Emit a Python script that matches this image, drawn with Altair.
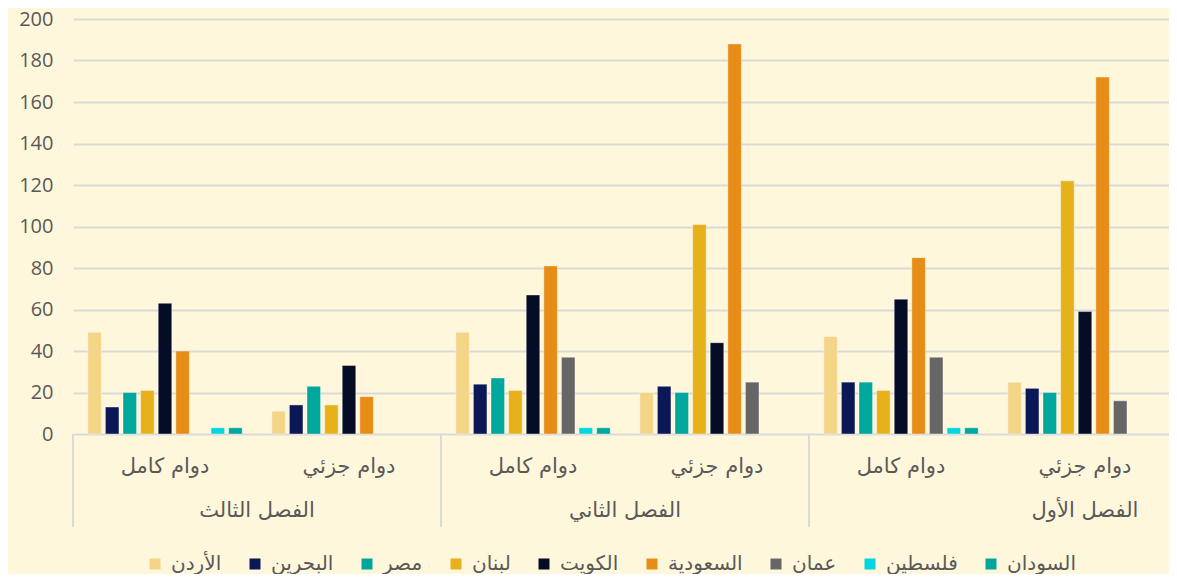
import altair as alt
import pandas as pd

countries = ["الأردن", "البحرين", "مصر", "لبنان", "الكويت", "السعودية", "عمان", "فلسطين", "السودان"]
colors = ["#F2D586", "#0B1757", "#00A79D", "#E6B11A", "#040C26", "#E68C17", "#666666", "#00D5E0", "#00A79D"]

semesters = ["الفصل الثالث", "الفصل الثالث", "الفصل الثاني", "الفصل الثاني", "الفصل الأول", "الفصل الأول"]
modes = ["دوام كامل", "دوام جزئي", "دوام كامل", "دوام جزئي", "دوام كامل", "دوام جزئي"]

third_full = [49, 13, 20, 21, 63, 40, 0, 3, 3]
third_part = [11, 14, 23, 14, 33, 18, 0, 0, 0]
second_full = [49, 24, 27, 21, 67, 81, 37, 3, 3]
second_part = [20, 23, 20, 101, 44, 188, 25, 0, 0]
first_full = [47, 25, 25, 21, 65, 85, 37, 3, 3]
first_part = [25, 22, 20, 122, 59, 172, 16, 0, 0]

y_ticks = [0, 20, 40, 60, 80, 100, 120, 140, 160, 180, 200]

groups = [third_full, third_part, second_full, second_part, first_full, first_part]
group_keys = [f"{i}|{m}" for i, m in enumerate(modes)]

rows = []
for gk, vals in zip(group_keys, groups):
    for c, v in zip(countries, vals):
        rows.append({"g": gk, "c": c, "v": v})
df = pd.DataFrame(rows)

mode_df = pd.DataFrame({"g": group_keys, "m": modes})
sep_df = pd.DataFrame({"g": [group_keys[0], group_keys[2], group_keys[4]]})
# first two semester labels sit on the boundary between their two sub-groups
sem_df = pd.DataFrame({"g": [group_keys[0], group_keys[2]], "s": [semesters[0], semesters[2]]})
# the last one (as in the reference) sits centred over its second sub-group
sem_last_df = pd.DataFrame({"g": [group_keys[5]], "s": [semesters[5]]})

W, H = 1104, 415
AR_FONT = "DejaVu Sans"
TXT = "#595959"
GRID = "#D9D9D9"

xscale = alt.Scale(domain=group_keys, paddingInner=0, paddingOuter=0)

bars = alt.Chart(df).transform_filter("datum.v > 0").mark_bar(
    stroke="#ffffff", strokeWidth=0.8, strokeOpacity=0.5
).encode(
    x=alt.X("g:N", scale=xscale, title=None, axis=None),
    xOffset=alt.XOffset("c:N", sort=countries,
                        scale=alt.Scale(domain=countries, paddingInner=0.23, paddingOuter=0.84)),
    y=alt.Y("v:Q", scale=alt.Scale(domain=[0, 200]), title=None,
            axis=alt.Axis(values=y_ticks, domain=False, ticks=False, labelPadding=20,
                          labelFont="Open Sans", labelFontSize=20, labelColor=TXT,
                          gridColor=GRID, gridWidth=2)),
    color=alt.Color("c:N", sort=countries,
                    scale=alt.Scale(domain=countries, range=colors),
                    legend=alt.Legend(orient="none", legendX=72, legendY=535, direction="horizontal",
                                      columns=9, title=None, labelFont=AR_FONT, labelFontSize=20,
                                      labelColor=TXT, symbolType="square", symbolSize=121,
                                      symbolStrokeWidth=0, columnPadding=23, labelOffset=6)),
)

seps = alt.Chart(sep_df).mark_rule(color=GRID, strokeWidth=2).encode(
    x=alt.X("g:N", scale=xscale, bandPosition=0, axis=None),
    y=alt.value(H),
    y2=alt.value(H + 93),
)

mode_text = alt.Chart(mode_df).mark_text(font=AR_FONT, fontSize=21, color=TXT, baseline="middle").encode(
    x=alt.X("g:N", scale=xscale, bandPosition=0.5, axis=None),
    y=alt.value(H + 33),
    text="m:N",
)

sem_text = alt.Chart(sem_df).mark_text(font=AR_FONT, fontSize=21, color=TXT, baseline="middle").encode(
    x=alt.X("g:N", scale=xscale, bandPosition=1, axis=None),
    y=alt.value(H + 77),
    text="s:N",
)

sem_last = alt.Chart(sem_last_df).mark_text(font=AR_FONT, fontSize=21, color=TXT, baseline="middle").encode(
    x=alt.X("g:N", scale=xscale, bandPosition=0.5, axis=None),
    y=alt.value(H + 77),
    text="s:N",
)

chart = alt.layer(bars, seps, mode_text, sem_text, sem_last).properties(
    width=W, height=H,
    background="#FFF7DB",
    padding={"left": 65, "top": 11, "right": -8, "bottom": 140},
    autosize=alt.AutoSizeParams(type="none"),
).configure_view(stroke=None)

chart.save("out.html", embed_options={"renderer": "svg", "actions": False})
